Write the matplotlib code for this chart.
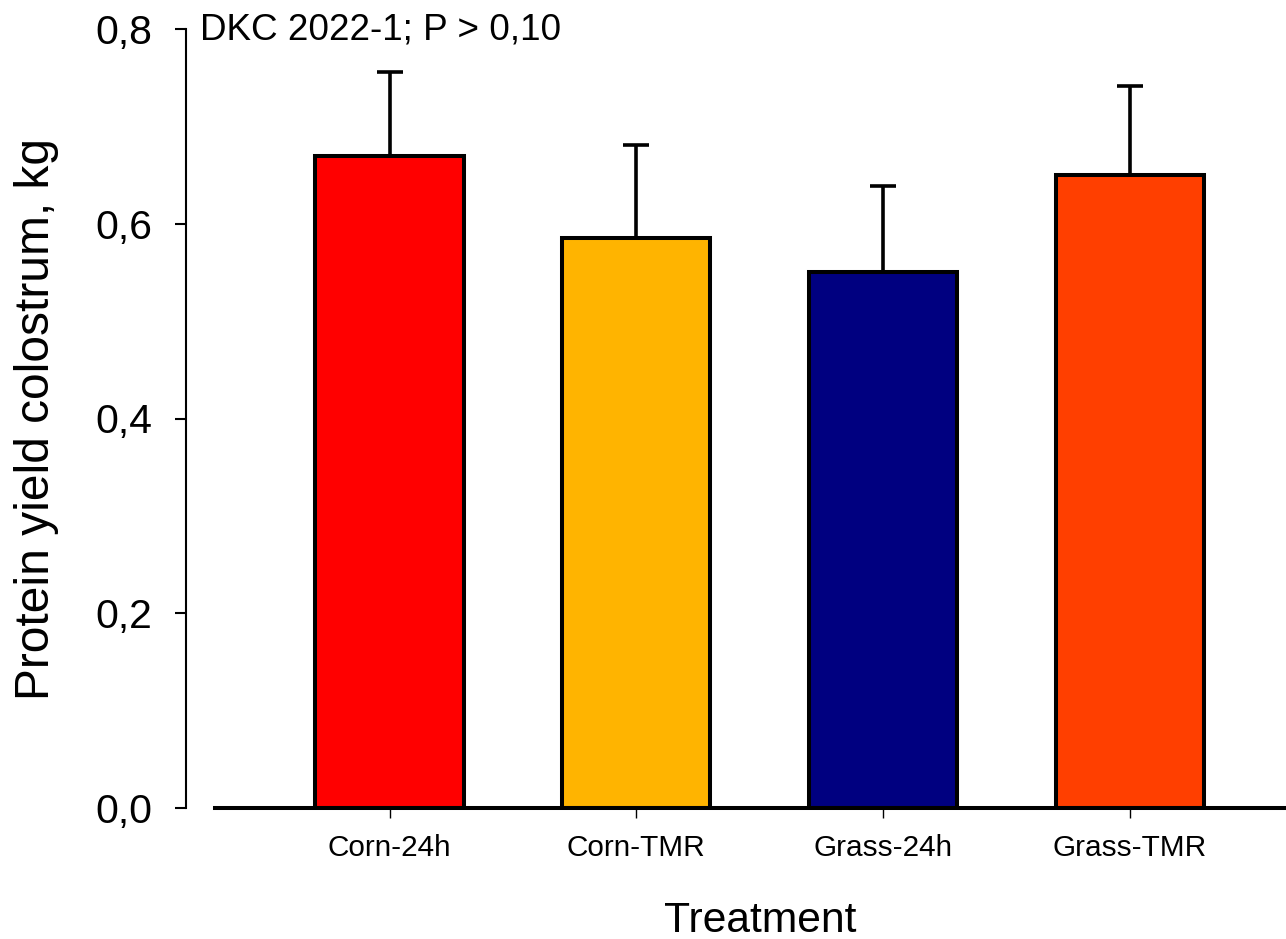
import matplotlib.pyplot as plt

plt.rcParams['font.family'] = ['Liberation Sans', 'DejaVu Sans']

treatments = ['Corn-24h', 'Corn-TMR', 'Grass-24h', 'Grass-TMR']
protein_yield = [0.670, 0.585, 0.550, 0.650]
se = [0.086, 0.096, 0.089, 0.091]
bar_colors = ['#FF0000', '#FFB400', '#000080', '#FF3F00']

W, H = 1286, 939
fig = plt.figure(figsize=(W / 100, H / 100), dpi=100)
ax = fig.add_axes([215 / W, 131 / H, (W - 215) / W, 779 / H])

# spine position first: it resets the ticks
ax.spines['top'].set_visible(False)
ax.spines['right'].set_visible(False)
ax.spines['left'].set_position(('outward', 21))
ax.spines['left'].set_linewidth(1.5)
ax.spines['bottom'].set_linewidth(2.9)

x = list(range(len(treatments)))
ax.bar(x, protein_yield, width=0.6, color=bar_colors, edgecolor='black', linewidth=2.9, zorder=2)
ax.errorbar(x, protein_yield, yerr=[[0] * len(se), se], fmt='none', ecolor='black',
            elinewidth=2.6, capsize=9.5, capthick=2.6, zorder=3)

ax.set_xlim(-0.707, 3.632)
ax.set_ylim(0, 0.8)
ax.set_yticks([0, 0.2, 0.4, 0.6, 0.8])
ax.set_yticklabels(['0,0', '0,2', '0,4', '0,6', '0,8'])
ax.set_xticks(x)
ax.set_xticklabels(treatments)
ax.tick_params(axis='y', direction='out', length=8, width=1.5, pad=16, labelsize=29.5)
ax.tick_params(axis='x', direction='out', length=7, width=1, pad=12, labelsize=21.4)

fig.text(37 / W, 1 - 419 / H, 'Protein yield colostrum, kg', rotation=90,
         ha='center', va='center', fontsize=34.5)
fig.text(760 / W, 1 - 932 / H, 'Treatment', ha='center', va='baseline', fontsize=30.7)
fig.text(200 / W, 1 - 40 / H, 'DKC 2022-1; P > 0,10', ha='left', va='baseline', fontsize=26.6)

fig.savefig('out.png', dpi=100)
